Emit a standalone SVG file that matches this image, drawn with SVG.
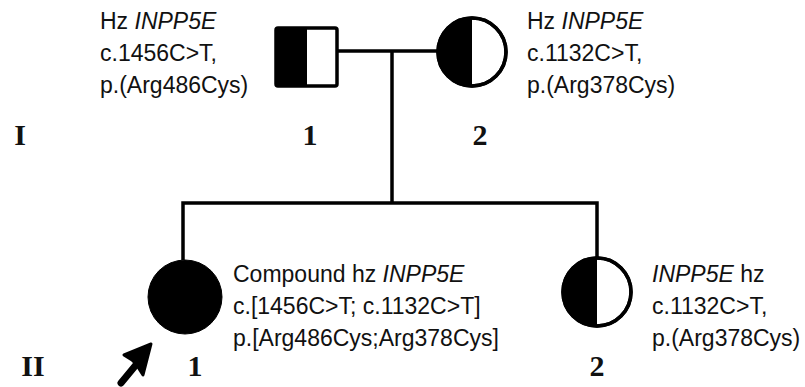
<svg xmlns="http://www.w3.org/2000/svg" width="805" height="387" viewBox="0 0 805 387">
<style>
.sym{stroke:#000;stroke-width:3.5;fill:#fff}
.blk{fill:#000;stroke:none}
.ln{stroke:#000;stroke-width:3.5;fill:none}
.t{font-family:"Liberation Sans",Arial,sans-serif;font-size:23px;fill:#111}
.i{font-style:italic}
.n{font-family:"Liberation Serif","Times New Roman",serif;font-size:30px;font-weight:bold;fill:#111;text-anchor:middle}
</style>
<g id="connectors">
<line class="ln" x1="338" y1="51" x2="437" y2="51"/>
<line class="ln" x1="392" y1="51" x2="392" y2="203"/>
<polyline class="ln" points="183,260 183,203 597,203 597,258"/>
</g>
<g id="I-1">
<rect x="276" y="28" width="61" height="58" rx="2" fill="#fff"/>
<rect class="blk" x="276" y="28" width="31" height="58"/>
<rect x="276" y="28" width="61" height="58" rx="2" fill="none" stroke="#000" stroke-width="3.5"/>
<text class="t" x="100" y="29">Hz <tspan class="i">INPP5E</tspan></text>
<text class="t" x="100" y="61">c.1456C&gt;T,</text>
<text class="t" x="100" y="93">p.(Arg486Cys)</text>
<text class="n" x="310" y="145">1</text>
</g>
<g id="I-2">
<circle class="sym" cx="472" cy="52" r="34"/>
<path class="blk" d="M472,18 A34,34 0 0 0 472,86 Z"/>
<circle cx="472" cy="52" r="34" fill="none" stroke="#000" stroke-width="3.5"/>
<text class="t" x="527" y="29">Hz <tspan class="i">INPP5E</tspan></text>
<text class="t" x="527" y="61">c.1132C&gt;T,</text>
<text class="t" x="527" y="93">p.(Arg378Cys)</text>
<text class="n" x="480" y="145">2</text>
</g>
<g id="gen-labels">
<text class="n" x="20" y="145">I</text>
<text class="n" x="33" y="376">II</text>
</g>
<g id="II-1">
<circle cx="185" cy="297" r="37" fill="#000" stroke="#000" stroke-width="1"/>
<text class="t" x="233" y="282">Compound hz <tspan class="i">INPP5E</tspan></text>
<text class="t" x="233" y="314">c.[1456C&gt;T; c.1132C&gt;T]</text>
<text class="t" x="233" y="346">p.[Arg486Cys;Arg378Cys]</text>
<text class="n" x="195" y="376">1</text>
<path d="M121,383 L140,360" stroke="#000" stroke-width="7" stroke-linecap="round" fill="none"/>
<polygon points="151,344 124,355 132,360 136,364 143,375" fill="#000" stroke="#000" stroke-width="3" stroke-linejoin="round"/>
</g>
<g id="II-2">
<circle class="sym" cx="597" cy="292" r="34"/>
<path class="blk" d="M597,258 A34,34 0 0 0 597,326 Z"/>
<circle cx="597" cy="292" r="34" fill="none" stroke="#000" stroke-width="3.5"/>
<text class="t" x="652" y="282"><tspan class="i">INPP5E</tspan> hz</text>
<text class="t" x="652" y="314">c.1132C&gt;T,</text>
<text class="t" x="652" y="346">p.(Arg378Cys)</text>
<text class="n" x="597" y="376">2</text>
</g>
</svg>
